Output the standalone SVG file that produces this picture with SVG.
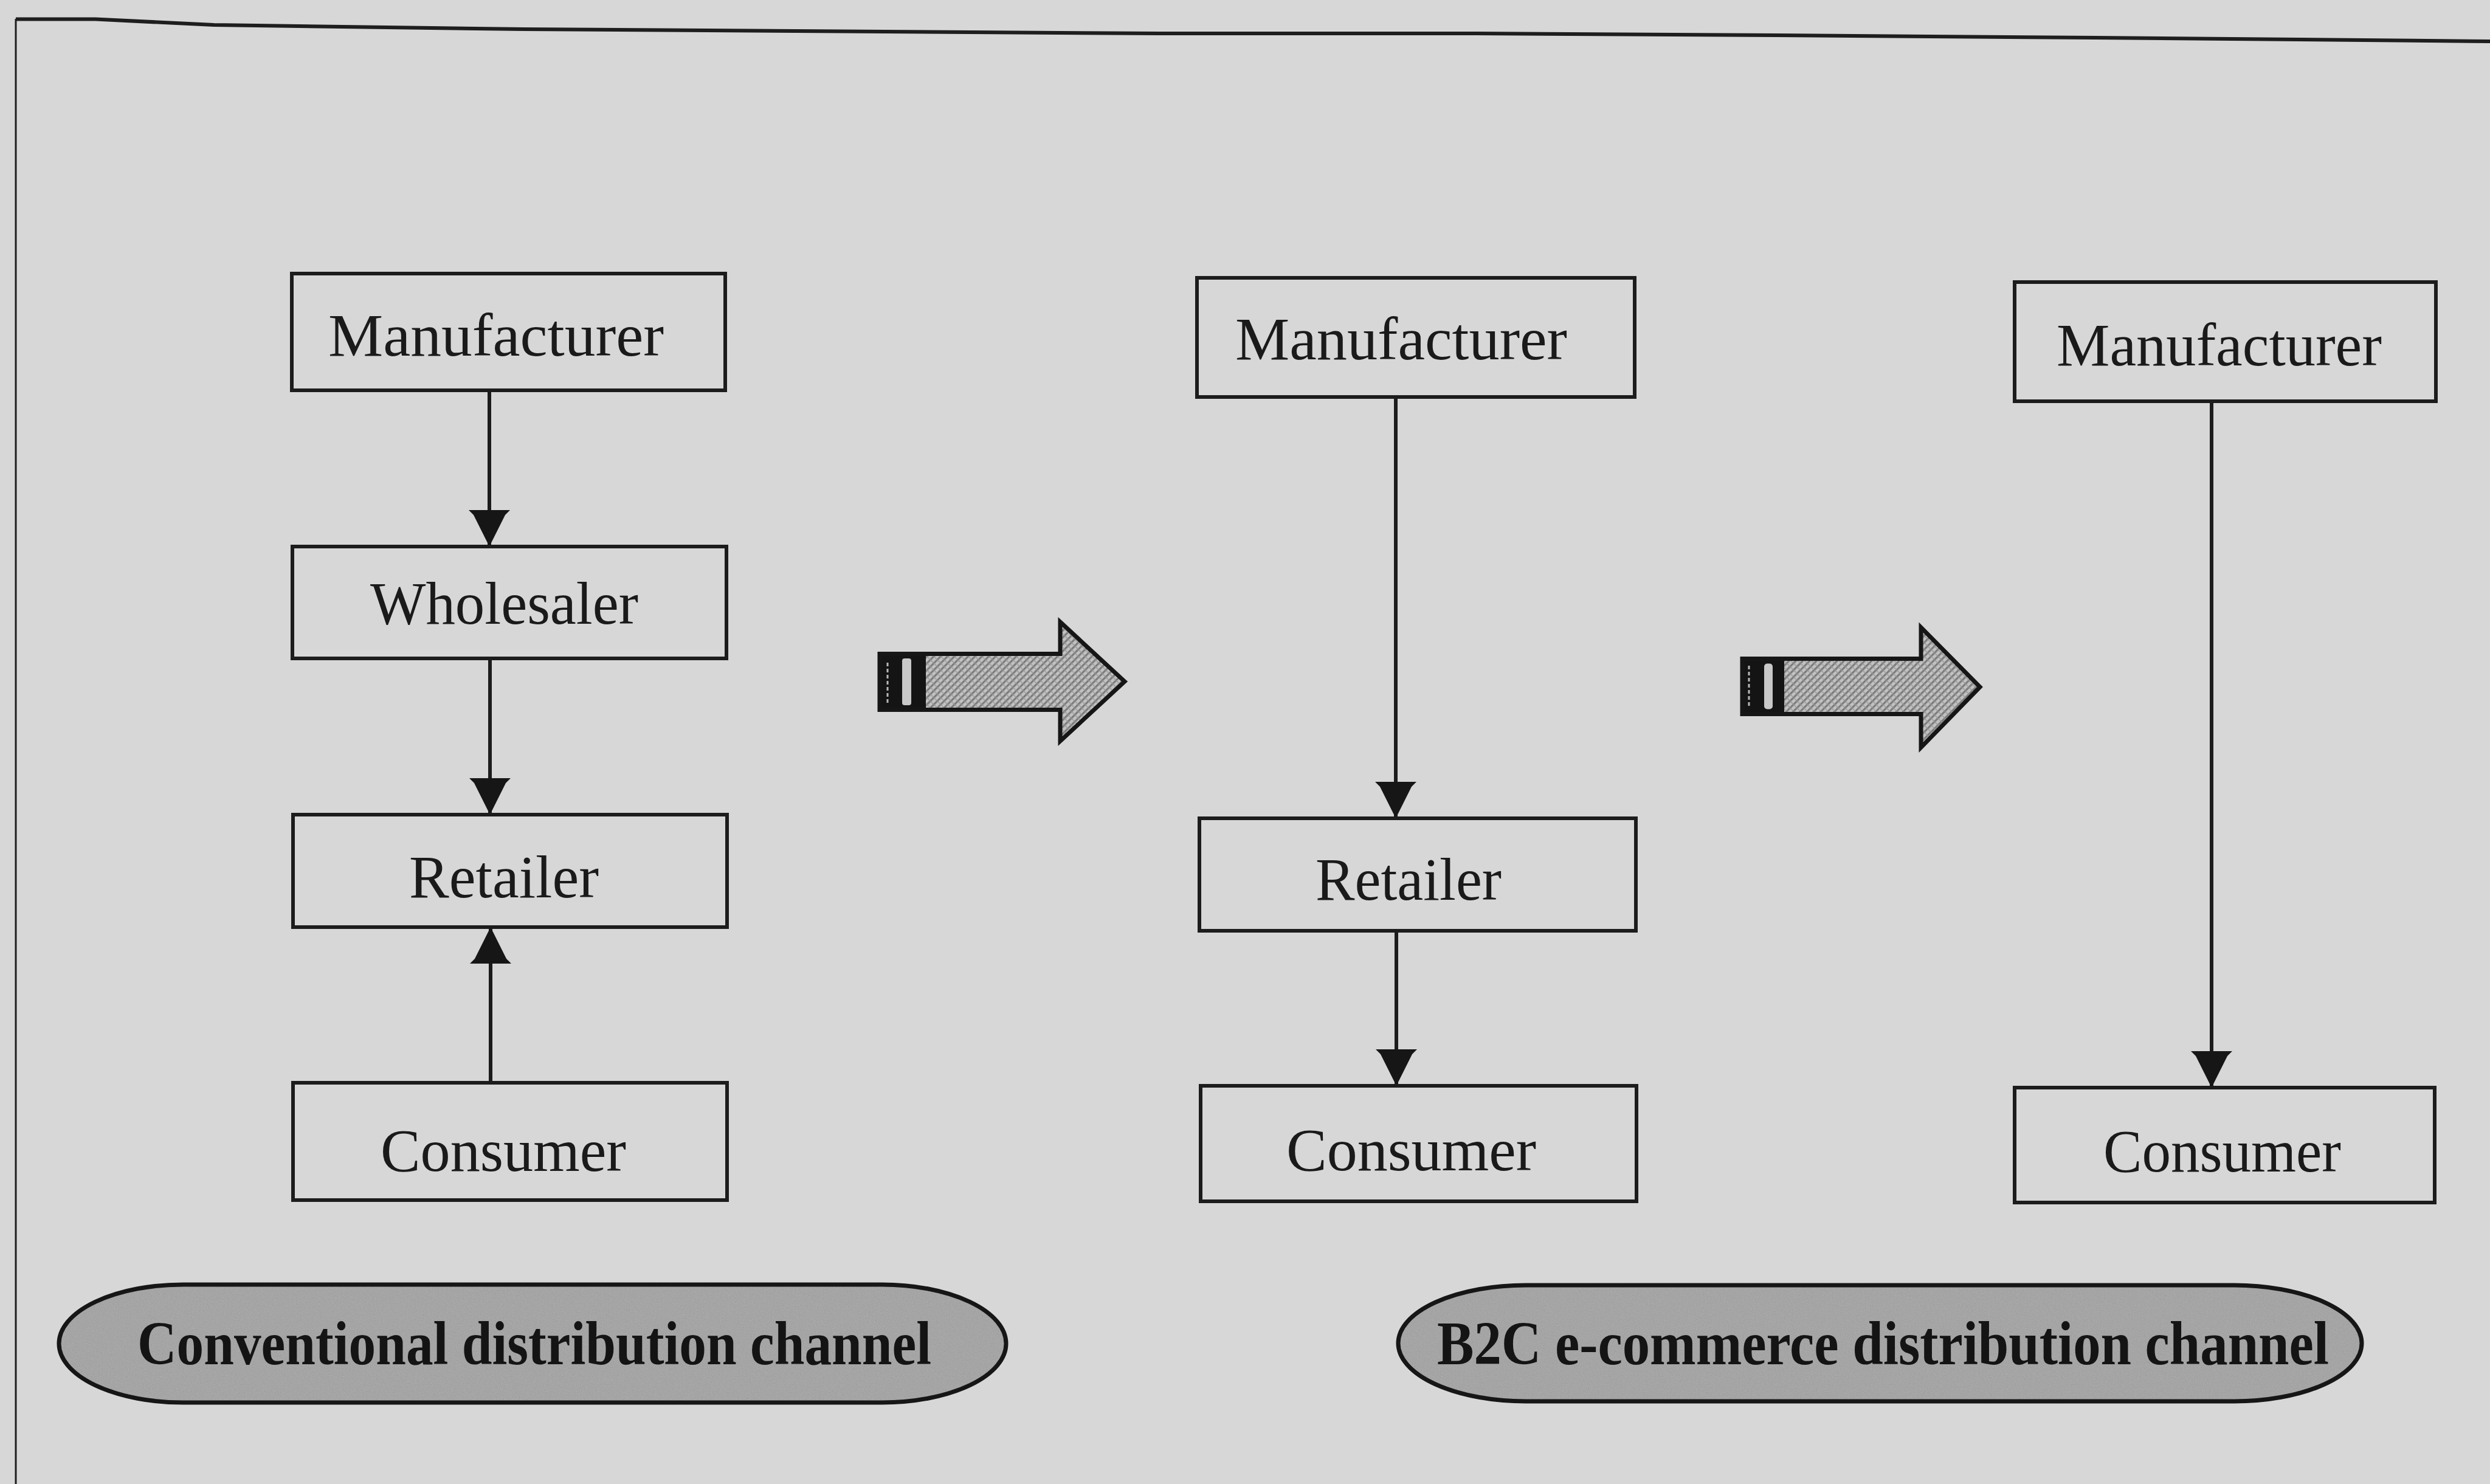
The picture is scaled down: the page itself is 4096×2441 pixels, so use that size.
<svg xmlns="http://www.w3.org/2000/svg" width="4096" height="2441" viewBox="0 0 4096 2441">
  <defs>
    <style>
      .box { fill: none; stroke: #1c1c1c; stroke-width: 6; }
      .lbl { font-family: "Liberation Serif", "Times New Roman", serif; font-size: 100px; fill: #1a1a1a; }
      .cap { font-family: "Liberation Serif", "Times New Roman", serif; font-size: 102px; font-weight: bold; fill: #141414; }
      .edge { fill: none; stroke: #1c1c1c; stroke-width: 6; marker-end: url(#tip); }
      .frame { fill: none; stroke: #1e1e1e; }
      .outline { fill: none; stroke: #161616; stroke-width: 7; stroke-linejoin: miter; }
    </style>
    <marker id="tip" markerUnits="userSpaceOnUse" markerWidth="62" markerHeight="68" refX="60" refY="34" orient="auto">
      <path d="M0,0 L8,8 L60,34 L8,60 L0,68 Z" fill="#161616"/>
    </marker>
    <pattern id="hatch" width="8" height="8" patternUnits="userSpaceOnUse" patternTransform="rotate(45)">
      <rect width="8" height="8" fill="#c2c2c2"/>
      <rect width="3.2" height="8" fill="#7c7c7c"/>
      <rect y="4.5" width="8" height="1.4" fill="#969696"/>
    </pattern>
    <filter id="grain" x="0" y="0" width="100%" height="100%">
      <feTurbulence type="fractalNoise" baseFrequency="0.85" numOctaves="2" seed="7" result="noise"/>
      <feColorMatrix in="noise" type="matrix" values="0 0 0 0 0.3  0 0 0 0 0.3  0 0 0 0 0.3  0 0 0 1.6 -0.55" result="specks"/>
      <feComposite in="specks" in2="SourceGraphic" operator="in" result="clipped"/>
      <feMerge>
        <feMergeNode in="SourceGraphic"/>
        <feMergeNode in="clipped"/>
      </feMerge>
    </filter>
  </defs>

  <!-- page -->
  <rect width="4096" height="2441" fill="#d7d7d7"/>
  <path class="frame" stroke-width="6" d="M26,31.6 L157,31.6 L352,41 L862,48 L1384,51.5 L1906,55 L2428,55 L2924,58 L3447,62 L3969,66.7 L4096,68"/>
  <line class="frame" stroke-width="3" x1="26" y1="31" x2="26" y2="2441"/>

  <!-- connectors -->
  <g id="connectors">
    <line class="edge" x1="805" y1="642" x2="805" y2="899"/>
    <line class="edge" x1="806" y1="1083" x2="806" y2="1340"/>
    <line class="edge" x1="807" y1="1781" x2="807" y2="1525"/>
    <line class="edge" x1="2296" y1="653" x2="2296" y2="1346"/>
    <line class="edge" x1="2297" y1="1531" x2="2297" y2="1786"/>
    <line class="edge" x1="3638" y1="660" x2="3638" y2="1789"/>
  </g>

  <!-- conventional channel -->
  <g id="conv-manufacturer">
    <rect class="box" x="480" y="450" width="713" height="192"/>
    <text class="lbl" x="540" y="585" textLength="552" lengthAdjust="spacingAndGlyphs">Manufacturer</text>
  </g>
  <g id="conv-wholesaler">
    <rect class="box" x="481" y="899" width="714" height="184"/>
    <text class="lbl" x="609" y="1026" textLength="441" lengthAdjust="spacingAndGlyphs">Wholesaler</text>
  </g>
  <g id="conv-retailer">
    <rect class="box" x="482" y="1340" width="714" height="185"/>
    <text class="lbl" x="673" y="1476" textLength="312" lengthAdjust="spacingAndGlyphs">Retailer</text>
  </g>
  <g id="conv-consumer">
    <rect class="box" x="482" y="1781" width="714" height="193"/>
    <text class="lbl" x="626" y="1926" textLength="404" lengthAdjust="spacingAndGlyphs">Consumer</text>
  </g>

  <!-- intermediate channel -->
  <g id="mid-manufacturer">
    <rect class="box" x="1969" y="457" width="720" height="196"/>
    <text class="lbl" x="2032" y="591" textLength="546" lengthAdjust="spacingAndGlyphs">Manufacturer</text>
  </g>
  <g id="mid-retailer">
    <rect class="box" x="1973" y="1346" width="718" height="185"/>
    <text class="lbl" x="2164" y="1480" textLength="306" lengthAdjust="spacingAndGlyphs">Retailer</text>
  </g>
  <g id="mid-consumer">
    <rect class="box" x="1975" y="1786" width="717" height="190"/>
    <text class="lbl" x="2116" y="1925" textLength="411" lengthAdjust="spacingAndGlyphs">Consumer</text>
  </g>

  <!-- direct channel -->
  <g id="direct-manufacturer">
    <rect class="box" x="3314" y="464" width="693" height="196"/>
    <text class="lbl" x="3383" y="601" textLength="535" lengthAdjust="spacingAndGlyphs">Manufacturer</text>
  </g>
  <g id="direct-consumer">
    <rect class="box" x="3314" y="1789" width="691" height="189"/>
    <text class="lbl" x="3460" y="1927" textLength="391" lengthAdjust="spacingAndGlyphs">Consumer</text>
  </g>

  <!-- transition arrows -->
  <g id="shift-1">
    <path d="M1447,1075.5 H1744 V1023 L1850,1121 L1744,1219 V1167.5 H1447 Z" fill="url(#hatch)"/>
    <rect x="1447" y="1075.5" width="76" height="92" fill="#141414"/>
    <rect x="1484" y="1083" width="15" height="77" rx="4" fill="#c8c8c8"/>
    <line x1="1460" y1="1090" x2="1460" y2="1156" stroke="#b8b8b8" stroke-width="3" stroke-dasharray="6 4"/>
    <path class="outline" d="M1447,1075.5 H1744 V1023 L1850,1121 L1744,1219 V1167.5 H1447 Z"/>
  </g>
  <g id="shift-2">
    <path d="M2866,1083.5 H3160 V1032 L3257,1130 L3160,1229.5 V1174.5 H2866 Z" fill="url(#hatch)"/>
    <rect x="2866" y="1083.5" width="69" height="91" fill="#141414"/>
    <rect x="2902" y="1091.5" width="14" height="75" rx="5" fill="#c8c8c8"/>
    <line x1="2877" y1="1095" x2="2877" y2="1162" stroke="#b8b8b8" stroke-width="3" stroke-dasharray="6 4"/>
    <path class="outline" d="M2866,1083.5 H3160 V1032 L3257,1130 L3160,1229.5 V1174.5 H2866 Z"/>
  </g>

  <!-- channel captions -->
  <g id="caption-conventional">
    <path d="M301,2113 H1451 A204 97 0 0 1 1451,2307 H301 A204 97 0 0 1 301,2113 Z" fill="#aaaaaa" filter="url(#grain)"/>
    <path class="outline" d="M301,2113 H1451 A204 97 0 0 1 1451,2307 H301 A204 97 0 0 1 301,2113 Z"/>
    <text class="cap" x="226" y="2244" textLength="1306" lengthAdjust="spacingAndGlyphs">Conventional distribution channel</text>
  </g>
  <g id="caption-b2c">
    <path d="M2510,2114 H3675 A210 95.5 0 0 1 3675,2305 H2510 A210 95.5 0 0 1 2510,2114 Z" fill="#aaaaaa" filter="url(#grain)"/>
    <path class="outline" d="M2510,2114 H3675 A210 95.5 0 0 1 3675,2305 H2510 A210 95.5 0 0 1 2510,2114 Z"/>
    <text class="cap" x="2364" y="2244" textLength="1467" lengthAdjust="spacingAndGlyphs">B2C e-commerce distribution channel</text>
  </g>
</svg>
